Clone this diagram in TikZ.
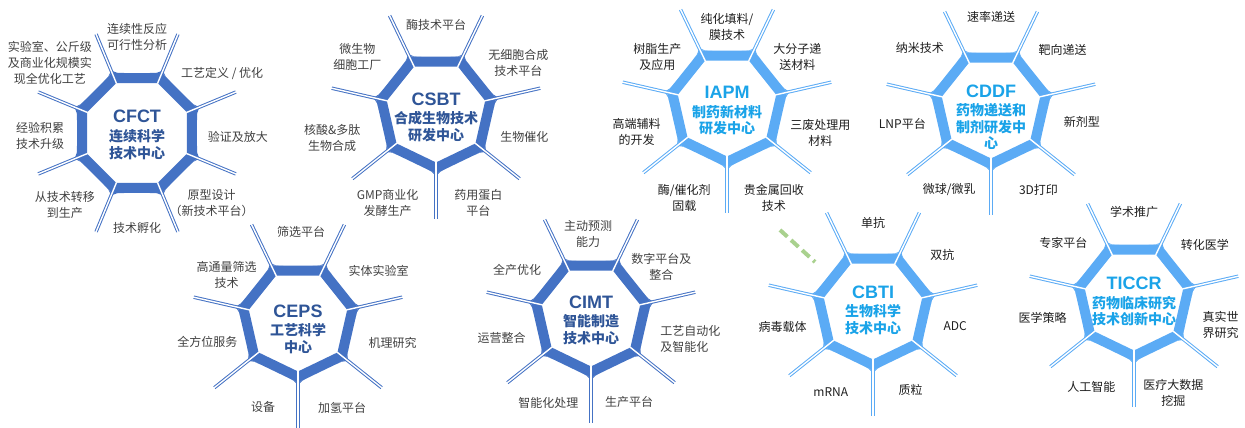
\documentclass[tikz,border=0pt]{standalone}
\usepackage{fontspec}
\setmainfont{Liberation Sans}
\newfontfamily\cjk{Noto Sans CJK SC}
\usetikzlibrary{calc}
\usetikzlibrary{positioning}
\definecolor{deepblue}{RGB}{68,114,196}
\definecolor{deeptitle}{RGB}{47,85,151}
\definecolor{skyblue}{RGB}{91,171,245}
\definecolor{skytitle}{RGB}{26,163,232}
\definecolor{labgray}{RGB}{64,64,64}
\definecolor{labblack}{RGB}{30,30,30}
\definecolor{dashgreen}{RGB}{169,209,142}
\tikzset{
  ttl/.style={font=\fontsize{18}{20}\selectfont\bfseries, inner sep=0pt},
  sub/.style={font=\cjk\bfseries\fontsize{14}{16.5}\selectfont, align=center, inner sep=0pt},
  lab/.style={font=\cjk\fontsize{12}{16}\selectfont, align=center, inner sep=0pt},
}
% 中心, 辺の数, 最初の頂点の角度, 半径, 色
\newcommand{\web}[5]{%
  \begin{scope}[shift={(#1)}]
    \pgfmathsetmacro\st{360/#2}
    \pgfmathsetmacro\hf{180/#2}
    \pgfmathtruncatemacro\nn{#2-1}
    \draw[#5, line width=10pt, line join=miter] (#3:#4) \foreach \k in {1,...,\nn} {-- (#3+\k*\st:#4)} -- cycle; %外周
    \foreach \k in {0,...,\nn} {
      \pgfmathsetmacro\a{#3+\k*\st}
      \coordinate (V) at (\a:#4+5.5); %外側の頂点
      \fill[#5] ($(V)+(\a+90+\hf:12)$) .. controls (V) .. ($(V)+(\a:15)$) .. controls (V) .. ($(V)+(\a-90-\hf:12)$) -- (V) -- cycle; %付け根
      \draw[#5, line width=3.4pt] (\a:#4) -- (\a:107); %スポーク
      \draw[white, line width=1.4pt] (\a:#4-6) -- (\a:107.5); %白線
    }
  \end{scope}}

\begin{document}
\begin{tikzpicture}[x=1pt,y=1pt]
  \useasboundingbox (0,0) rectangle (1245,428);

  \coordinate (cfct-c) at (137,295); %CFCT
  \coordinate (csbt-c) at (436,316); %CSBT
  \coordinate (iapm-c) at (727,322); %IAPM
  \coordinate (cddf-c) at (991,320); %CDDF
  \coordinate (ceps-c) at (298,107); %CEPS
  \coordinate (cimt-c) at (591,112); %CIMT
  \coordinate (cbti-c) at (873,119); %CBTI
  \coordinate (ticcr-c) at (1134,128); %TICCR

  \web{cfct-c}{8}{22.5}{59.5}{deepblue}
  \web{csbt-c}{7}{-90}{56}{deepblue}
  \web{iapm-c}{7}{-90}{56}{skyblue}
  \web{cddf-c}{7}{-90}{56}{skyblue}
  \web{ceps-c}{7}{-90}{56}{deepblue}
  \web{cimt-c}{7}{-90}{56}{deepblue}
  \web{cbti-c}{7}{-90}{56}{skyblue}
  \web{ticcr-c}{7}{-90}{56}{skyblue}

  % CFCT
  \node[ttl, deeptitle] (cfct) at ($(cfct-c)+(0,17)$) {CFCT};
  \node[sub, deeptitle, below=7pt of cfct] (cfct-sub) {连续科学\\技术中心};
  \begin{scope}[shift={(cfct-c)}, text=labgray]
    \node[lab] (cfct-1) at (90:96) {连续性反应\\可行性分析};
    \node[lab] (cfct-2) at (35:104) {工艺定义 / 优化};
    \node[lab] (cfct-3) at (-2:101) {验证及放大};
    \node[lab] (cfct-4) at (-43:102) {原型设计\\（新技术平台）};
    \node[lab] (cfct-5) at (-90:95) {技术孵化};
    \node[lab] (cfct-6) at (225:102) {从技术转移\\到生产};
    \node[lab] (cfct-7) at (182:97) {经验积累\\技术升级};
    \node[lab] (cfct-8) at (141:112) {实验室、公斤级\\及商业化规模实\\现全优化工艺};
  \end{scope}

  % CSBT
  \node[ttl, deeptitle] (csbt) at ($(csbt-c)+(0,13)$) {CSBT};
  \node[sub, deeptitle, below=6pt of csbt] (csbt-sub) {合成生物技术\\研发中心};
  \begin{scope}[shift={(csbt-c)}, text=labgray]
    \node[lab] (csbt-1) at (90:87) {酶技术平台};
    \node[lab] (csbt-2) at (31:96) {无细胞合成\\技术平台};
    \node[lab] (csbt-3) at (-16:92) {生物催化};
    \node[lab] (csbt-4) at (-65:100) {药用蛋白\\平台};
    \node[lab] (csbt-5) at (242:103) {GMP商业化\\发酵生产};
    \node[lab] (csbt-6) at (194:107) {核酸\&多肽\\生物合成};
    \node[lab] (csbt-7) at (145:96) {微生物\\细胞工厂};
  \end{scope}

  % IAPM
  \node[ttl, skytitle] (iapm) at ($(iapm-c)+(0,13.5)$) {IAPM};
  \node[sub, skytitle, below=6pt of iapm] (iapm-sub) {制药新材料\\研发中心};
  \begin{scope}[shift={(iapm-c)}, text=labblack]
    \node[lab] (iapm-1) at (90:79) {纯化填料/\\膜技术};
    \node[lab] (iapm-2) at (35:86) {大分子递\\送材料};
    \node[lab] (iapm-3) at (-16:97) {三废处理用\\材料};
    \node[lab] (iapm-4) at (-63:103) {贵金属回收\\技术};
    \node[lab] (iapm-5) at (245:101) {酶/催化剂\\固载};
    \node[lab] (iapm-6) at (196:94) {高端辅料\\的开发};
    \node[lab] (iapm-7) at (145:85) {树脂生产\\及应用};
  \end{scope}

  % CDDF
  \node[ttl, skytitle] (cddf) at ($(cddf-c)+(0,17)$) {CDDF};
  \node[sub, skytitle, below=6pt of cddf] (cddf-sub) {药物递送和\\制剂研发中\\心};
  \begin{scope}[shift={(cddf-c)}, text=labblack]
    \node[lab] (cddf-1) at (90:91) {速率递送};
    \node[lab] (cddf-2) at (39:92) {靶向递送};
    \node[lab] (cddf-3) at (-9:92) {新剂型};
    \node[lab] (cddf-4) at (-60:95) {3D打印};
    \node[lab] (cddf-5) at (243:92) {微球/微乳};
    \node[lab] (cddf-6) at (190:90) {LNP平台};
    \node[lab] (cddf-7) at (140:93) {纳米技术};
  \end{scope}

  % CEPS
  \node[ttl, deeptitle] (ceps) at ($(ceps-c)+(0,10)$) {CEPS};
  \node[sub, deeptitle, below=6pt of ceps] (ceps-sub) {工艺科学\\中心};
  \begin{scope}[shift={(ceps-c)}, text=labgray]
    \node[lab] (ceps-1) at (88:89) {筛选平台};
    \node[lab] (ceps-2) at (32:95) {实体实验室};
    \node[lab] (ceps-3) at (-13:97) {机理研究};
    \node[lab] (ceps-4) at (-63:97) {加氢平台};
    \node[lab] (ceps-5) at (248:93) {设备};
    \node[lab] (ceps-6) at (193:93) {全方位服务};
    \node[lab] (ceps-7) at (147:85) {高通量筛选\\技术};
  \end{scope}

  % CIMT
  \node[ttl, deeptitle] (cimt) at ($(cimt-c)+(0,14)$) {CIMT};
  \node[sub, deeptitle, below=6pt of cimt] (cimt-sub) {智能制造\\技术中心};
  \begin{scope}[shift={(cimt-c)}, text=labgray]
    \node[lab] (cimt-1) at (92:82) {主动预测\\能力};
    \node[lab] (cimt-2) at (35:86) {数字平台及\\整合};
    \node[lab, align=left] (cimt-3) at (-13:102) {工艺自动化\\及智能化};
    \node[lab] (cimt-4) at (-66:94) {生产平台};
    \node[lab] (cimt-5) at (244:97) {智能化处理};
    \node[lab] (cimt-6) at (194:92) {运营整合};
    \node[lab] (cimt-7) at (148:87) {全产优化};
  \end{scope}

  % CBTI
  \node[ttl, skytitle] (cbti) at ($(cbti-c)+(0,17)$) {CBTI};
  \node[sub, skytitle, below=6pt of cbti] (cbti-sub) {生物科学\\技术中心};
  \begin{scope}[shift={(cbti-c)}, text=labblack]
    \node[lab] (cbti-1) at (90:86) {单抗};
    \node[lab] (cbti-2) at (38:88) {双抗};
    \node[lab] (cbti-3) at (-12:84) {ADC};
    \node[lab] (cbti-4) at (-65:89) {质粒};
    \node[lab] (cbti-5) at (243:93) {mRNA};
    \node[lab] (cbti-6) at (191:92) {病毒载体};
  \end{scope}
  \coordinate (gd-s) at (780,198); %緑の破線
  \coordinate (gd-e) at (815,166);
  \draw[dashgreen, line width=4pt, dash pattern=on 10pt off 5pt] (gd-s) -- (gd-e);

  % TICCR
  \node[ttl, skytitle] (ticcr) at ($(ticcr-c)+(0,16.5)$) {TICCR};
  \node[sub, skytitle, below=6pt of ticcr] (ticcr-sub) {药物临床研究\\技术创新中心};
  \begin{scope}[shift={(ticcr-c)}, text=labblack]
    \node[lab] (ticcr-1) at (90:88) {学术推广};
    \node[lab] (ticcr-2) at (38:90) {转化医学};
    \node[lab] (ticcr-3) at (-16:90) {真实世\\界研究};
    \node[lab] (ticcr-4) at (-67:101) {医疗大数据\\挖掘};
    \node[lab] (ticcr-5) at (244:97) {人工智能};
    \node[lab] (ticcr-6) at (191:93) {医学策略};
    \node[lab] (ticcr-7) at (141:91) {专家平台};
  \end{scope}
\end{tikzpicture}
\end{document}
